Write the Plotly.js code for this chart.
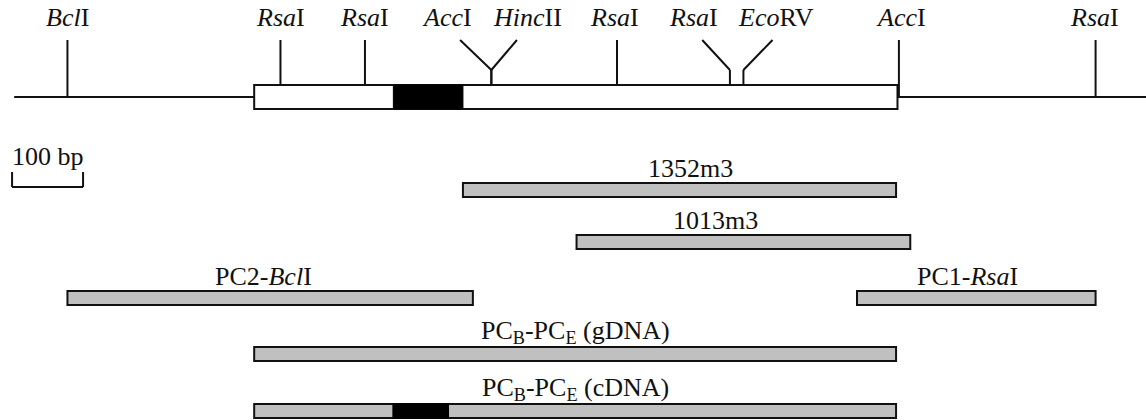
<!DOCTYPE html>
<html><head><meta charset="utf-8">
<script src="https://cdn.plot.ly/plotly-3.0.1.min.js"></script>
<style>html,body{margin:0;padding:0;background:#fff}</style>
</head><body><div id="chart" style="width:1146px;height:420px"></div>
<script>
// ---- data (positions in bp) ----
const siteNames = ['<i>Bcl</i>I','<i>Rsa</i>I','<i>Rsa</i>I','<i>Acc</i>I','<i>Hinc</i>II','<i>Rsa</i>I','<i>Rsa</i>I','<i>Eco</i>RV','<i>Acc</i>I','<i>Rsa</i>I'];
const sitePos = [75, 375, 494, 672, 672, 849, 1008, 1027, 1246, 1523];
const siteLabelPos = [75, 375, 494, 610, 723, 846, 956, 1073, 1249, 1521];
const siteArmTop = [null, null, null, 628, 708, null, 969, 1068, null, null];
const mapRange = [0, 1594];
const geneRange = [338, 1244];
const exonRange = [534, 632];
const fragNames = ['1352m3', '1013m3', 'PC2-<i>Bcl</i>I', 'PC1-<i>Rsa</i>I',
  'PC<sub>B</sub>-PC<sub>E</sub> (gDNA)', 'PC<sub>B</sub>-PC<sub>E</sub> (cDNA)'];
const fragStart = [632, 792, 75, 1187, 338, 338];
const fragEnd = [1242, 1262, 646, 1523, 1242, 1242];
const fragLabelPos = [952, 987, 351, 1342, 790, 790];
const fragRow = [0, 1, 2, 2, 3, 4];
const cdnaExon = [534, 611];
const scaleBar = [-3, 97];
const scaleLabel = '100 bp';

// ---- layout constants (vertical layout, px-like units) ----
const mapY = 97, siteTopY = 40, bendY = 70, boxTop = 85, boxBot = 109, siteLabelY = 17;
const rowY = [190, 242, 298, 354, 411];
const barHalf = 7, fragLabelOff = -22;
const FONT = {family: 'Liberation Serif, Times New Roman, serif', size: 26, color: '#111'};
const LW = 2;

const shapes = [];
const ann = [];
const line = (x0,y0,x1,y1) => shapes.push({type:'line', xref:'x', yref:'y', x0, y0, x1, y1, line:{color:'#111', width:LW}});

// main line
line(mapRange[0], mapY, mapRange[1], mapY);
// gene box
shapes.push({type:'rect', xref:'x', yref:'y', x0:geneRange[0], x1:geneRange[1], y0:boxTop, y1:boxBot, fillcolor:'#fff', line:{color:'#111', width:LW}});
shapes.push({type:'rect', xref:'x', yref:'y', x0:exonRange[0], x1:exonRange[1], y0:boxTop, y1:boxBot, fillcolor:'#000', line:{color:'#000', width:1}});

// sites
sitePos.forEach((p, i) => {
  const bottom = (p > geneRange[0] && p < geneRange[1]) ? boxTop : mapY;
  if (siteArmTop[i] === null) {
    line(p, bottom, p, siteTopY);
  } else {
    line(p, bottom, p, bendY);
    line(p, bendY, siteArmTop[i], siteTopY);
  }
  ann.push({xref:'x', yref:'y', x: siteLabelPos[i], y: siteLabelY, text: siteNames[i], showarrow:false, xanchor:'center', yanchor:'middle', font:FONT});
});

// scale bar
line(scaleBar[0], 187, scaleBar[1], 187);
line(scaleBar[0], 187, scaleBar[0], 172);
line(scaleBar[1], 187, scaleBar[1], 172);
ann.push({xref:'x', yref:'y', x:(scaleBar[0]+scaleBar[1])/2, y:156, text:scaleLabel, showarrow:false, xanchor:'center', yanchor:'middle', font:FONT});

// fragments
fragNames.forEach((n, i) => {
  const y = rowY[fragRow[i]];
  shapes.push({type:'rect', xref:'x', yref:'y', x0:fragStart[i], x1:fragEnd[i], y0:y-barHalf, y1:y+barHalf, fillcolor:'#c0c0c0', line:{color:'#111', width:LW}});
  ann.push({xref:'x', yref:'y', x:fragLabelPos[i], y:y+fragLabelOff, text:n, showarrow:false, xanchor:'center', yanchor:'middle', font:FONT});
});
// cDNA dark segment
const cy = rowY[fragRow[5]];
shapes.push({type:'rect', xref:'x', yref:'y', x0:cdnaExon[0], x1:cdnaExon[1], y0:cy-barHalf, y1:cy+barHalf, fillcolor:'#000', line:{color:'#000', width:LW}});

const layout = {
  width:1146, height:420, margin:{l:0,r:0,t:0,b:0},
  paper_bgcolor:'#fff', plot_bgcolor:'#fff', showlegend:false,
  xaxis:{range:[-20, 1594], visible:false, fixedrange:true},
  yaxis:{range:[420, 0], visible:false, fixedrange:true},
  shapes, annotations: ann
};
Plotly.newPlot('chart', [{x:[], y:[], type:'scatter', mode:'markers', hoverinfo:'skip'}], layout, {staticPlot:true, displayModeBar:false});
</script></body></html>
